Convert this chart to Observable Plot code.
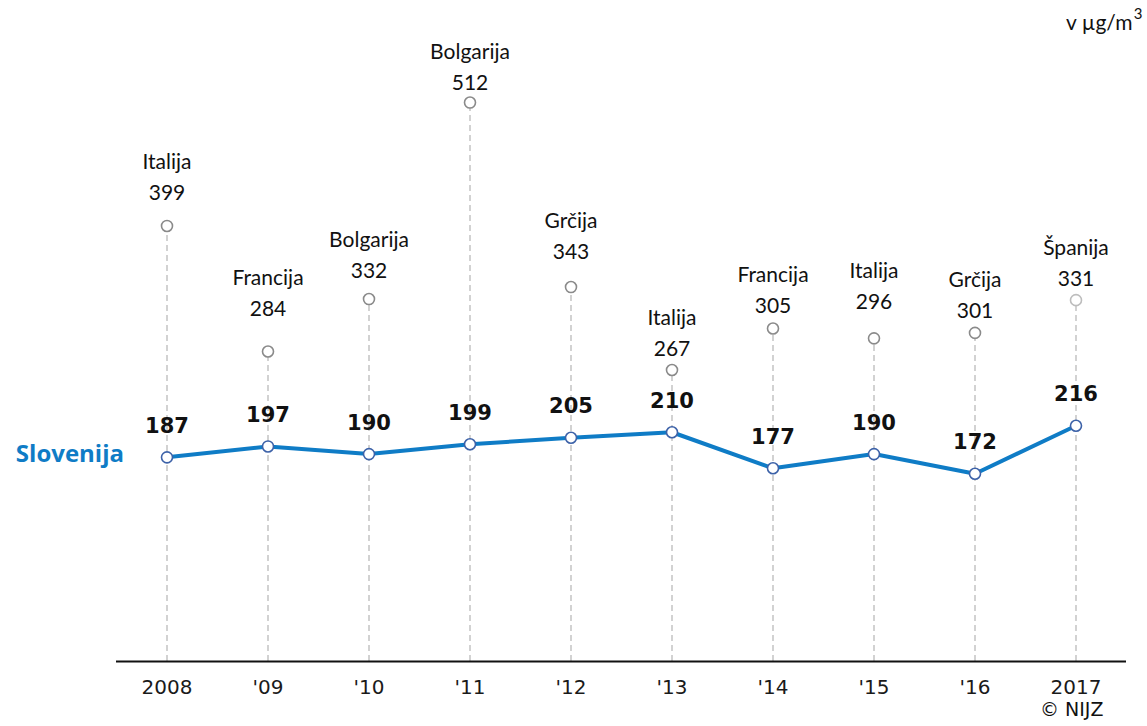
<!DOCTYPE html>
<html>
<head>
<meta charset="utf-8">
<script src="https://cdn.jsdelivr.net/npm/d3@7"></script>
<script src="https://cdn.jsdelivr.net/npm/@observablehq/plot@0.6"></script>
<style>
  html, body { margin: 0; padding: 0; background: #fff; }
  #chart { width: 1147px; height: 726px; }
</style>
</head>
<body>
<div id="chart"></div>
<script>
const years = [2008, 2009, 2010, 2011, 2012, 2013, 2014, 2015, 2016, 2017];
const tickLabels = ["2008", "'09", "'10", "'11", "'12", "'13", "'14", "'15", "'16", "2017"];
const slovenija = [187, 197, 190, 199, 205, 210, 177, 190, 172, 216];
const maxValues = [399, 284, 332, 512, 343, 267, 305, 296, 301, 331];
const maxCountries = ["Italija", "Francija", "Bolgarija", "Bolgarija", "Grčija", "Italija", "Francija", "Italija", "Grčija", "Španija"];

// layout: vertical gap (px) between each max-value circle and its number label
const labelGap = [33, 42, 28, 19, 35, 21, 22, 36, 22, 21];

const sloData = years.map((y, i) => ({year: y, value: slovenija[i]}));
const maxData = years.map((y, i) => ({year: y, value: maxValues[i], country: maxCountries[i], last: i === years.length - 1, gap: labelGap[i]}));

const labelFont = "Lato, 'Open Sans', sans-serif";
const blue = "#0f7cc6";

const maxNumberMarks = maxData.map((d) =>
  Plot.text([d], {x: "year", y: "value", text: (e) => String(e.value), dy: -d.gap, fontSize: 21, fill: "#111", fontFamily: labelFont})
);
const maxCountryMarks = maxData.map((d) =>
  Plot.text([d], {x: "year", y: "value", text: "country", dy: -d.gap - 31, fontSize: 21, fill: "#111", fontFamily: labelFont})
);

const chart = Plot.plot({
  width: 1147,
  height: 726,
  marginLeft: 116,
  marginRight: 21,
  marginTop: 6,
  marginBottom: 65,
  style: {fontFamily: "'DejaVu Sans', sans-serif", background: "#fff", overflow: "visible"},
  x: {domain: [2007.5, 2017.5], axis: null, label: null},
  y: {domain: [0, 600], axis: null, label: null},
  marks: [
    Plot.ruleX(maxData, {x: "year", y1: 0, y2: "value", stroke: "#c4c4c4", strokeWidth: 1.5, strokeDasharray: "6,4"}),
    Plot.ruleY([0], {stroke: "#111", strokeWidth: 2}),
    Plot.axisX({
      ticks: years,
      tickSize: 0,
      tickPadding: 18,
      label: null,
      tickFormat: (d) => tickLabels[years.indexOf(d)],
      fontSize: 20,
      fill: "#1a1a1a",
      fontFamily: "'DejaVu Sans', sans-serif"
    }),
    Plot.dot(maxData, {x: "year", y: "value", r: 5.5, fill: "white", stroke: (d) => d.last ? "#bdbdbd" : "#8a8a8a", strokeWidth: 1.6}),
    ...maxNumberMarks,
    ...maxCountryMarks,
    Plot.line(sloData, {x: "year", y: "value", stroke: blue, strokeWidth: 4}),
    Plot.dot(sloData, {x: "year", y: "value", r: 5.5, fill: "white", stroke: "#3d62a8", strokeWidth: 1.6}),
    Plot.text(sloData, {x: "year", y: "value", text: (d) => String(d.value), dy: -31, fontSize: 21, fontWeight: "bold", fill: "#111", fontFamily: "'DejaVu Sans', sans-serif"}),
    Plot.text([sloData[0]], {x: "year", y: "value", text: () => "Slovenija", dx: -43, dy: -3, textAnchor: "end", fontSize: 24, fontWeight: "bold", fill: blue, fontFamily: "'Open Sans', Lato, sans-serif"}),
    Plot.text(["v µg/m"], {frameAnchor: "top-right", dx: 6, dy: 9, textAnchor: "end", fontSize: 21, fill: "#111", fontFamily: labelFont}),
    Plot.text(["3"], {frameAnchor: "top-right", dx: 16, dy: 2, textAnchor: "end", fontSize: 15, fill: "#111", fontFamily: labelFont}),
    Plot.text(["© NIJZ"], {frameAnchor: "bottom-right", dx: -23, dy: 54, textAnchor: "end", fontSize: 19, fill: "#111", fontFamily: "'DejaVu Sans', sans-serif"})
  ]
});
document.getElementById("chart").appendChild(chart);
</script>
</body>
</html>
